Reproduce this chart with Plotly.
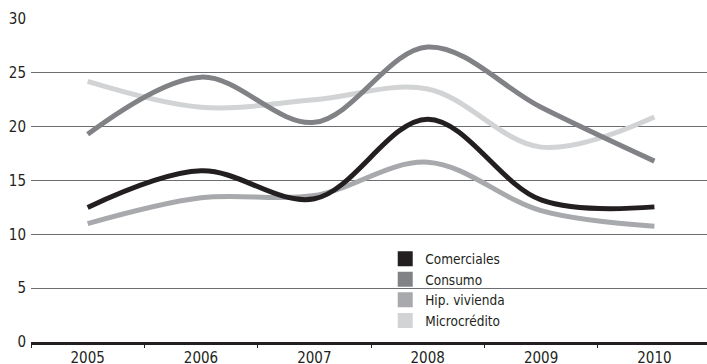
import plotly.graph_objects as go

years = ["2005", "2006", "2007", "2008", "2009", "2010"]
comerciales = [12.5, 15.9, 13.3, 20.7, 13.2, 12.55]
consumo = [19.3, 24.6, 20.4, 27.4, 21.8, 16.8]
hip_vivienda = [11.0, 13.4, 13.6, 16.7, 12.2, 10.75]
microcredito = [24.2, 21.8, 22.5, 23.5, 18.1, 20.9]

series = [
    ("Comerciales", comerciales, "#231f20"),
    ("Consumo", consumo, "#808285"),
    ("Hip. vivienda", hip_vivienda, "#a7a9ac"),
    ("Microcrédito", microcredito, "#d1d3d4"),
]

FONT = "DejaVu Sans Condensed, Liberation Sans Narrow, sans-serif"
XRANGE = [-0.5, 5.464]

fig = go.Figure()
for name, vals, color in reversed(series):
    fig.add_trace(go.Scatter(
        x=list(range(len(years))), y=vals, mode="lines", name=name,
        line=dict(color=color, width=5, shape="spline", smoothing=1.0),
        showlegend=False, hoverinfo="skip",
    ))
for name, vals, color in series:
    fig.add_trace(go.Scatter(
        x=[None], y=[None], mode="markers", name=name,
        marker=dict(symbol="square", size=15, color=color),
        showlegend=True,
    ))
fig.add_trace(go.Scatter(x=[None], y=[None], xaxis="x2", showlegend=False, hoverinfo="skip"))

boundaries = [i - 0.5 for i in range(len(years) + 1)]

fig.update_layout(
    width=707, height=364,
    margin=dict(l=31, r=0, t=19, b=22),
    paper_bgcolor="white", plot_bgcolor="white",
    font=dict(family=FONT, color="#231f20"),
    showlegend=True,
    legend=dict(
        x=0.524, y=0.305, xanchor="left", yanchor="top",
        bgcolor="rgba(0,0,0,0)", font=dict(size=13.5, family=FONT, color="#231f20"),
        itemsizing="trace", tracegroupgap=0, itemwidth=30,
    ),
    xaxis=dict(
        range=XRANGE, tickvals=list(range(len(years))), ticktext=years,
        showgrid=False, zeroline=False,
        showline=True, linecolor="#231f20", linewidth=3,
        ticks="", automargin=False,
        tickfont=dict(size=15, family=FONT, color="#231f20"),
        fixedrange=True,
    ),
    xaxis2=dict(
        overlaying="x", anchor="y", side="bottom", range=XRANGE,
        tickvals=boundaries, showticklabels=False, showgrid=False, zeroline=False,
        showline=False, ticks="outside", ticklen=5, tickcolor="#231f20", tickwidth=1,
        automargin=False, fixedrange=True,
    ),
    yaxis=dict(
        range=[0, 30], tickvals=[0, 5, 10, 15, 20, 25, 30],
        showgrid=True, gridcolor="#6d6e71", gridwidth=1,
        zeroline=False, showline=False, ticks="", automargin=False,
        ticklabelstandoff=4,
        tickfont=dict(size=15, family=FONT, color="#231f20"),
        fixedrange=True,
    ),
)

fig.write_html(
    "out.html",
    config={"displayModeBar": False, "staticPlot": True},
    post_script="document.body.style.margin='0';document.body.style.overflow='hidden';",
)
